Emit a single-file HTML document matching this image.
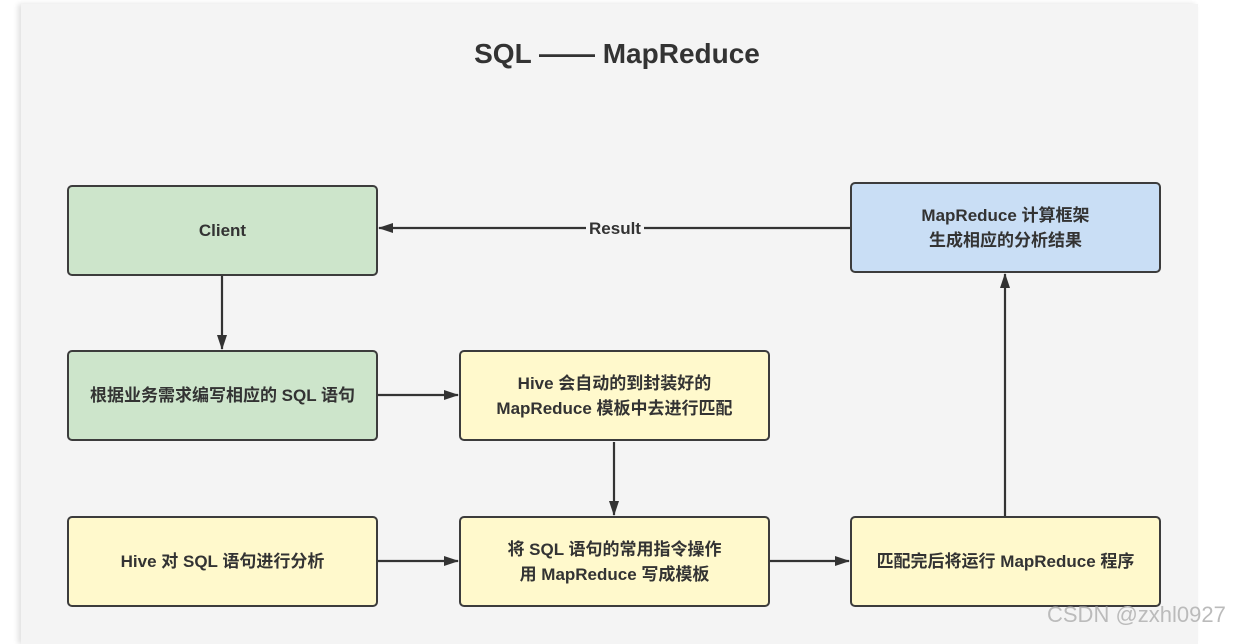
<!DOCTYPE html>
<html><head><meta charset="utf-8"><style>
body{margin:0;width:1234px;height:637px;background:#fff;position:relative;overflow:hidden;font-family:"Liberation Sans","Noto Sans CJK SC",sans-serif}
.panel{position:absolute;left:21px;top:4px;width:1177px;height:640px;background:#f4f4f4;box-shadow:-3px 0 5px rgba(0,0,0,0.12)}
.b{position:absolute;box-sizing:border-box;border:2px solid #3c3c3c;border-radius:5px;display:flex;align-items:center;justify-content:center;text-align:center;font-weight:bold;font-size:17px;color:#333;line-height:25px;width:311px;height:91px}
.g{background:#cde5cb}.y{background:#fff9cc}.bl{background:#c9def5}
.t{position:absolute;left:0;width:1234px;top:38px;text-align:center;font-size:28px;font-weight:bold;color:#333}
.wm{position:absolute;left:1047px;top:602px;font-size:22px;color:#bbb}
</style></head><body>
<div class="panel"></div>
<div class="t">SQL —— MapReduce</div>
<svg style="position:absolute;left:0;top:0" width="1234" height="637">
<defs><marker id="a" markerWidth="15" markerHeight="10" refX="14" refY="5" orient="auto" markerUnits="userSpaceOnUse"><path d="M0,0 L15,5 L0,10 Z" fill="#333"/></marker></defs>
<g stroke="#333" stroke-width="2.2" fill="none">
<line x1="850" y1="228" x2="379" y2="228" marker-end="url(#a)"/>
<line x1="222" y1="276" x2="222" y2="349" marker-end="url(#a)"/>
<line x1="378" y1="395" x2="458" y2="395" marker-end="url(#a)"/>
<line x1="614" y1="442" x2="614" y2="515" marker-end="url(#a)"/>
<line x1="378" y1="561" x2="458" y2="561" marker-end="url(#a)"/>
<line x1="770" y1="561" x2="849" y2="561" marker-end="url(#a)"/>
<line x1="1005" y1="516" x2="1005" y2="274" marker-end="url(#a)"/>
</g>
<rect x="586" y="217" width="58" height="22" fill="#f4f4f4"/>
<text x="615" y="234" text-anchor="middle" font-family="Liberation Sans" font-weight="bold" font-size="17" fill="#333">Result</text>
</svg>
<div class="b g" style="left:67px;top:185px">Client</div>
<div class="b bl" style="left:850px;top:182px">MapReduce 计算框架<br>生成相应的分析结果</div>
<div class="b g" style="left:67px;top:350px">根据业务需求编写相应的 SQL 语句</div>
<div class="b y" style="left:459px;top:350px">Hive 会自动的到封装好的<br>MapReduce 模板中去进行匹配</div>
<div class="b y" style="left:67px;top:516px">Hive 对 SQL 语句进行分析</div>
<div class="b y" style="left:459px;top:516px">将 SQL 语句的常用指令操作<br>用 MapReduce 写成模板</div>
<div class="b y" style="left:850px;top:516px">匹配完后将运行 MapReduce 程序</div>
<div class="wm">CSDN @zxhl0927</div>
</body></html>
